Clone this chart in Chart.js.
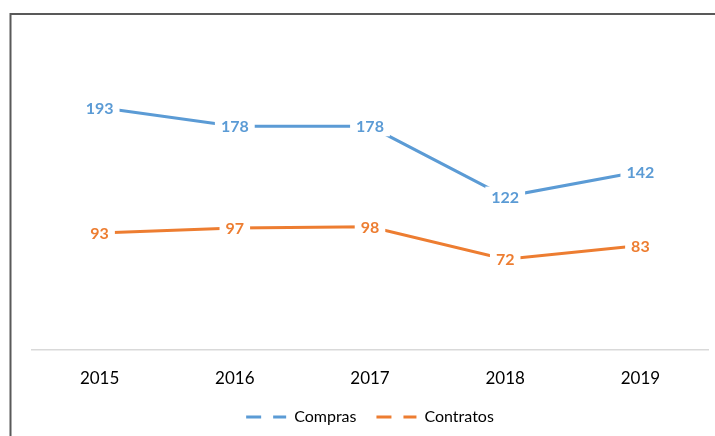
<!DOCTYPE html>
<html>
<head>
<meta charset="utf-8">
<script src="https://cdn.jsdelivr.net/npm/chart.js@4"></script>
<style>
  html, body { margin: 0; padding: 0; background: #fff; }
  #wrap { width: 715px; height: 436px; position: relative; }
</style>
</head>
<body>
<div id="wrap"><canvas id="lineChart"></canvas></div>
<script>
// datos
const years = ['2015', '2016', '2017', '2018', '2019'];
const compras = [193, 178, 178, 122, 142];
const contratos = [93, 97, 98, 72, 83];
const seriesNames = ['Compras', 'Contratos'];
const seriesColors = ['#5B9BD5', '#ED7D31'];

const FONT = 'Lato, "Open Sans", sans-serif';

// marco del gráfico (borde superior e izquierdo)
const framePlugin = {
  id: 'frame',
  afterDraw(chart) {
    const ctx = chart.ctx;
    ctx.save();
    ctx.strokeStyle = '#595959';
    ctx.lineWidth = 2;
    ctx.beginPath();
    ctx.moveTo(10.5, 436);
    ctx.lineTo(10.5, 14);
    ctx.lineTo(715, 14);
    ctx.stroke();
    ctx.restore();
  }
};

// etiquetas de datos con fondo blanco sobre cada punto
const labelPlugin = {
  id: 'pointLabels',
  afterDatasetsDraw(chart) {
    const ctx = chart.ctx;
    ctx.save();
    ctx.font = 'bold 16px ' + FONT;
    ctx.textAlign = 'center';
    ctx.textBaseline = 'middle';
    chart.data.datasets.forEach((ds, i) => {
      chart.getDatasetMeta(i).data.forEach((pt, j) => {
        const txt = String(ds.data[j]);
        const w = ctx.measureText(txt).width;
        ctx.fillStyle = '#fff';
        ctx.fillRect(pt.x - w / 2 - 6, pt.y - 10, w + 12, 20);
        ctx.fillStyle = ds.borderColor;
        ctx.fillText(txt, pt.x, pt.y + 1);
      });
    });
    ctx.restore();
  }
};

const ctx = document.getElementById('lineChart').getContext('2d');
new Chart(ctx, {
  type: 'line',
  data: {
    labels: years,
    datasets: [
      {
        label: seriesNames[0],
        data: compras,
        borderColor: seriesColors[0],
        backgroundColor: seriesColors[0],
        borderWidth: 3,
        pointRadius: 0,
        tension: 0,
      },
      {
        label: seriesNames[1],
        data: contratos,
        borderColor: seriesColors[1],
        backgroundColor: seriesColors[1],
        borderWidth: 3,
        pointRadius: 0,
        tension: 0,
      },
    ],
  },
  options: {
    responsive: true,
    maintainAspectRatio: false,
    animation: false,
    layout: {
      padding: { left: 32, right: 7, top: 36, bottom: 1 },
    },
    scales: {
      x: {
        offset: true,
        grid: { display: false, drawTicks: false },
        border: { display: true, color: '#D9D9D9', width: 1.5 },
        ticks: {
          color: '#000',
          font: { family: FONT, size: 17 },
          padding: 19,
        },
        afterFit(scale) {
          scale.height -= 19;
        },
      },
      y: {
        display: false,
        min: 0,
        max: 250,
      },
    },
    plugins: {
      tooltip: { enabled: false },
      legend: {
        position: 'bottom',
        labels: {
          color: '#000',
          font: { family: FONT, size: 16 },
          usePointStyle: true,
          pointStyleWidth: 40,
          padding: 20,
          generateLabels(chart) {
            return chart.data.datasets.map((ds, i) => ({
              text: ds.label,
              fillStyle: ds.borderColor,
              strokeStyle: ds.borderColor,
              lineWidth: 3,
              lineDash: [15, 12],
              pointStyle: 'line',
              fontColor: '#000',
              datasetIndex: i,
            }));
          },
        },
      },
    },
  },
  plugins: [labelPlugin, framePlugin],
});
</script>
</body>
</html>
